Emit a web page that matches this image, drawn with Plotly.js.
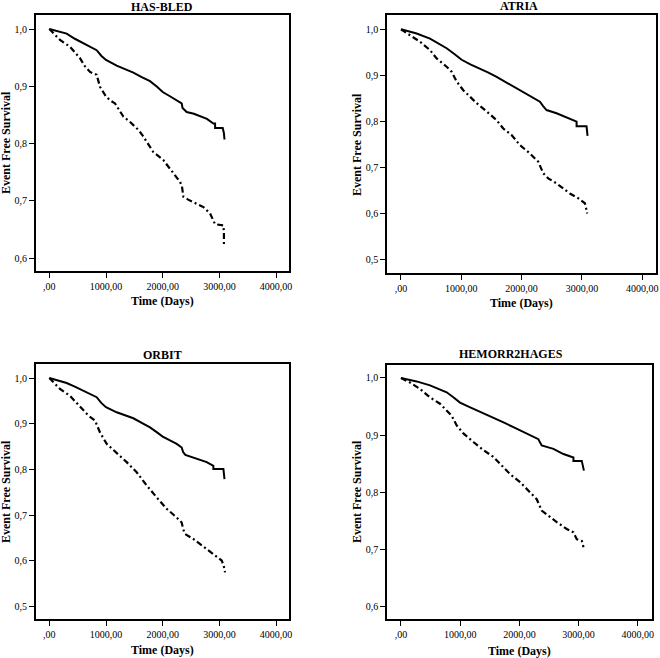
<!DOCTYPE html>
<html>
<head>
<meta charset="utf-8">
<script src="https://cdn.plot.ly/plotly-3.0.1.min.js"></script>
<style>
html,body{margin:0;padding:0;background:#fff;}
#chart{width:660px;height:658px;}
</style>
</head>
<body>
<div id="chart"></div>
<script>
// ---- Panel titles ----
const panelTitles = ["HAS-BLED", "ATRIA", "ORBIT", "HEMORR2HAGES"];

// ---- Tick labels ----
const xTickVals = [0, 1000, 2000, 3000, 4000];
const xTickText = [",00", "1000,00", "2000,00", "3000,00", "4000,00"];
const yTickVals46 = [0.6, 0.7, 0.8, 0.9, 1.0];
const yTickText46 = ["0,6", "0,7", "0,8", "0,9", "1,0"];
const yTickVals5 = [0.5, 0.6, 0.7, 0.8, 0.9, 1.0];
const yTickText5 = ["0,5", "0,6", "0,7", "0,8", "0,9", "1,0"];

// ---- HAS-BLED ----
const hasbledSolidDays = [0, 150, 306, 450, 600, 720, 835, 920, 1000, 1188, 1330, 1482, 1630, 1776, 1900, 2000, 2120, 2247, 2335, 2350, 2423, 2550, 2659, 2780, 2894, 2924, 2924, 3059, 3080, 3090];
const hasbledSolidSurv = [1.0, 0.996, 0.992, 0.983, 0.975, 0.970, 0.963, 0.953, 0.946, 0.936, 0.930, 0.924, 0.916, 0.909, 0.899, 0.890, 0.883, 0.876, 0.870, 0.862, 0.855, 0.852, 0.848, 0.843, 0.835, 0.835, 0.827, 0.827, 0.818, 0.807];
const hasbledDashDays = [0, 100, 188, 365, 450, 541, 620, 718, 835, 894, 1000, 1080, 1159, 1306, 1400, 1482, 1580, 1659, 1750, 1835, 2012, 2100, 2188, 2306, 2340, 2365, 2450, 2541, 2718, 2835, 2924, 3071, 3080, 3080];
const hasbledDashSurv = [1.0, 0.990, 0.981, 0.969, 0.960, 0.949, 0.936, 0.925, 0.920, 0.899, 0.882, 0.875, 0.870, 0.847, 0.840, 0.832, 0.823, 0.812, 0.797, 0.785, 0.771, 0.760, 0.748, 0.733, 0.725, 0.707, 0.702, 0.698, 0.689, 0.678, 0.659, 0.657, 0.645, 0.621];

// ---- ATRIA ----
const atriaSolidDays = [0, 130, 260, 481, 620, 757, 880, 1006, 1150, 1309, 1450, 1586, 1720, 1862, 1970, 2083, 2200, 2304, 2360, 2414, 2580, 2746, 2912, 2912, 3077, 3085, 3094];
const atriaSolidSurv = [1.0, 0.995, 0.991, 0.980, 0.970, 0.959, 0.947, 0.934, 0.924, 0.915, 0.906, 0.897, 0.887, 0.876, 0.868, 0.861, 0.852, 0.843, 0.833, 0.825, 0.818, 0.809, 0.800, 0.790, 0.790, 0.780, 0.769];
const atriaDashDays = [0, 149, 315, 481, 591, 757, 840, 923, 1033, 1144, 1254, 1420, 1586, 1696, 1834, 1972, 2138, 2276, 2320, 2359, 2442, 2580, 2691, 2801, 2939, 3050, 3070, 3088];
const atriaDashSurv = [1.0, 0.988, 0.973, 0.955, 0.937, 0.919, 0.908, 0.887, 0.868, 0.854, 0.840, 0.822, 0.803, 0.785, 0.771, 0.749, 0.731, 0.713, 0.700, 0.688, 0.677, 0.666, 0.655, 0.644, 0.634, 0.623, 0.612, 0.601];

// ---- ORBIT ----
const orbitSolidDays = [0, 150, 306, 450, 600, 720, 835, 920, 1000, 1188, 1330, 1482, 1630, 1776, 1900, 2000, 2120, 2247, 2335, 2360, 2400, 2600, 2776, 2894, 2894, 3071, 3080, 3090];
const orbitSolidSurv = [1.0, 0.995, 0.989, 0.981, 0.972, 0.965, 0.958, 0.945, 0.936, 0.925, 0.918, 0.912, 0.902, 0.892, 0.881, 0.872, 0.864, 0.856, 0.848, 0.838, 0.832, 0.824, 0.816, 0.808, 0.801, 0.801, 0.790, 0.779];
const orbitDashDays = [0, 100, 188, 365, 450, 541, 688, 806, 894, 1012, 1188, 1365, 1541, 1718, 1894, 2071, 2247, 2335, 2360, 2394, 2541, 2659, 2806, 2924, 3041, 3075, 3100];
const orbitDashSurv = [1.0, 0.988, 0.976, 0.961, 0.950, 0.936, 0.918, 0.907, 0.881, 0.856, 0.837, 0.816, 0.794, 0.765, 0.739, 0.714, 0.695, 0.684, 0.670, 0.659, 0.648, 0.637, 0.622, 0.613, 0.601, 0.590, 0.575];

// ---- HEMORR2HAGES ----
const hemSolidDays = [0, 130, 265, 490, 640, 772, 890, 997, 1160, 1335, 1480, 1617, 1760, 1899, 2040, 2180, 2321, 2350, 2377, 2575, 2744, 2913, 2913, 3054, 3070, 3090];
const hemSolidSurv = [1.0, 0.997, 0.994, 0.987, 0.981, 0.975, 0.966, 0.957, 0.949, 0.941, 0.935, 0.928, 0.921, 0.914, 0.907, 0.900, 0.893, 0.887, 0.882, 0.876, 0.867, 0.861, 0.855, 0.855, 0.847, 0.838];
const hemDashDays = [0, 152, 321, 490, 659, 772, 856, 941, 1054, 1223, 1392, 1561, 1673, 1842, 2011, 2180, 2293, 2377, 2518, 2631, 2800, 2913, 2969, 3054, 3070, 3082];
const hemDashSurv = [1.0, 0.992, 0.981, 0.966, 0.955, 0.943, 0.934, 0.917, 0.903, 0.888, 0.874, 0.862, 0.850, 0.832, 0.818, 0.800, 0.788, 0.768, 0.756, 0.748, 0.736, 0.730, 0.718, 0.715, 0.710, 0.704];

const serif = "Liberation Serif, Times New Roman, serif";

function solid(x, y, n) {
  return {x: x, y: y, xaxis: 'x' + n, yaxis: 'y' + n, type: 'scatter', mode: 'lines',
    line: {color: '#000', width: 2, shape: 'linear'}, showlegend: false, hoverinfo: 'skip'};
}
function dashed(x, y, n) {
  return {x: x, y: y, xaxis: 'x' + n, yaxis: 'y' + n, type: 'scatter', mode: 'lines',
    line: {color: '#000', width: 2.2, shape: 'linear', dash: '6px,3px,2px,3px'}, showlegend: false, hoverinfo: 'skip'};
}

const data = [
  solid(hasbledSolidDays, hasbledSolidSurv, ''), dashed(hasbledDashDays, hasbledDashSurv, ''),
  solid(atriaSolidDays, atriaSolidSurv, '2'), dashed(atriaDashDays, atriaDashSurv, '2'),
  solid(orbitSolidDays, orbitSolidSurv, '3'), dashed(orbitDashDays, orbitDashSurv, '3'),
  solid(hemSolidDays, hemSolidSurv, '4'), dashed(hemDashDays, hemDashSurv, '4')
];
data.forEach(t => { if (t.xaxis === 'x') { t.xaxis = 'x'; t.yaxis = 'y'; } });

function xax(dom, range, anchor) {
  return {domain: dom, range: range, anchor: anchor, tickvals: xTickVals, ticktext: xTickText,
    ticks: 'outside', ticklen: 5, tickwidth: 1, tickcolor: '#000',
    showline: true, mirror: true, linewidth: 2, linecolor: '#000', showgrid: false, zeroline: false,
    tickfont: {family: serif, size: 10, color: '#000'}, fixedrange: true};
}
function yax(dom, range, anchor, tv, tt) {
  return {domain: dom, range: range, anchor: anchor, tickvals: tv, ticktext: tt,
    ticks: 'outside', ticklen: 5, tickwidth: 1, tickcolor: '#000',
    showline: true, mirror: true, linewidth: 2, linecolor: '#000', showgrid: false, zeroline: false,
    tickfont: {family: serif, size: 10, color: '#000'}, fixedrange: true};
}

const W = 660, H = 658;
function px(v) { return v / W; }
function py(v) { return 1 - v / H; }

const titleFont = {family: serif, size: 12, color: '#000', weight: 'bold'};
function ann(text, x, y, angle) {
  return {text: '<b>' + text + '</b>', x: px(x), y: py(y), xref: 'paper', yref: 'paper',
    showarrow: false, xanchor: 'center', yanchor: 'middle', textangle: angle || 0, font: titleFont};
}

const layout = {
  width: W, height: H,
  margin: {l: 0, r: 0, t: 0, b: 0},
  paper_bgcolor: '#fff', plot_bgcolor: '#fff',
  xaxis: xax([px(36), px(289)], [-235, 4228], 'y'),
  yaxis: yax([py(271), py(15)], [0.5773, 1.0245], 'x', yTickVals46, yTickText46),
  xaxis2: xax([px(387.3), px(655.7)], [-227, 4224], 'y2'),
  yaxis2: yax([py(273), py(15.3)], [0.4718, 1.0304], 'x2', yTickVals5, yTickText5),
  xaxis3: xax([px(36), px(289)], [-235, 4228], 'y3'),
  yaxis3: yax([py(619), py(364)], [0.4731, 1.0306], 'x3', yTickVals5, yTickText5),
  xaxis4: xax([px(387.3), px(651.7)], [-231, 4235], 'y4'),
  yaxis4: yax([py(619), py(365)], [0.5785, 1.0227], 'x4', yTickVals46, yTickText46),
  annotations: [
    ann(panelTitles[0], 162, 7), ann(panelTitles[1], 519, 6),
    ann(panelTitles[2], 162, 355), ann(panelTitles[3], 511, 354),
    ann('Time (Days)', 162, 301), ann('Time (Days)', 521, 303),
    ann('Time (Days)', 162, 650), ann('Time (Days)', 519, 651),
    ann('Event Free Survival', 6, 143, -90), ann('Event Free Survival', 357, 145, -90),
    ann('Event Free Survival', 6, 492, -90), ann('Event Free Survival', 357, 492, -90)
  ]
};

Plotly.newPlot('chart', data, layout, {displayModeBar: false, staticPlot: true});
</script>
</body>
</html>
